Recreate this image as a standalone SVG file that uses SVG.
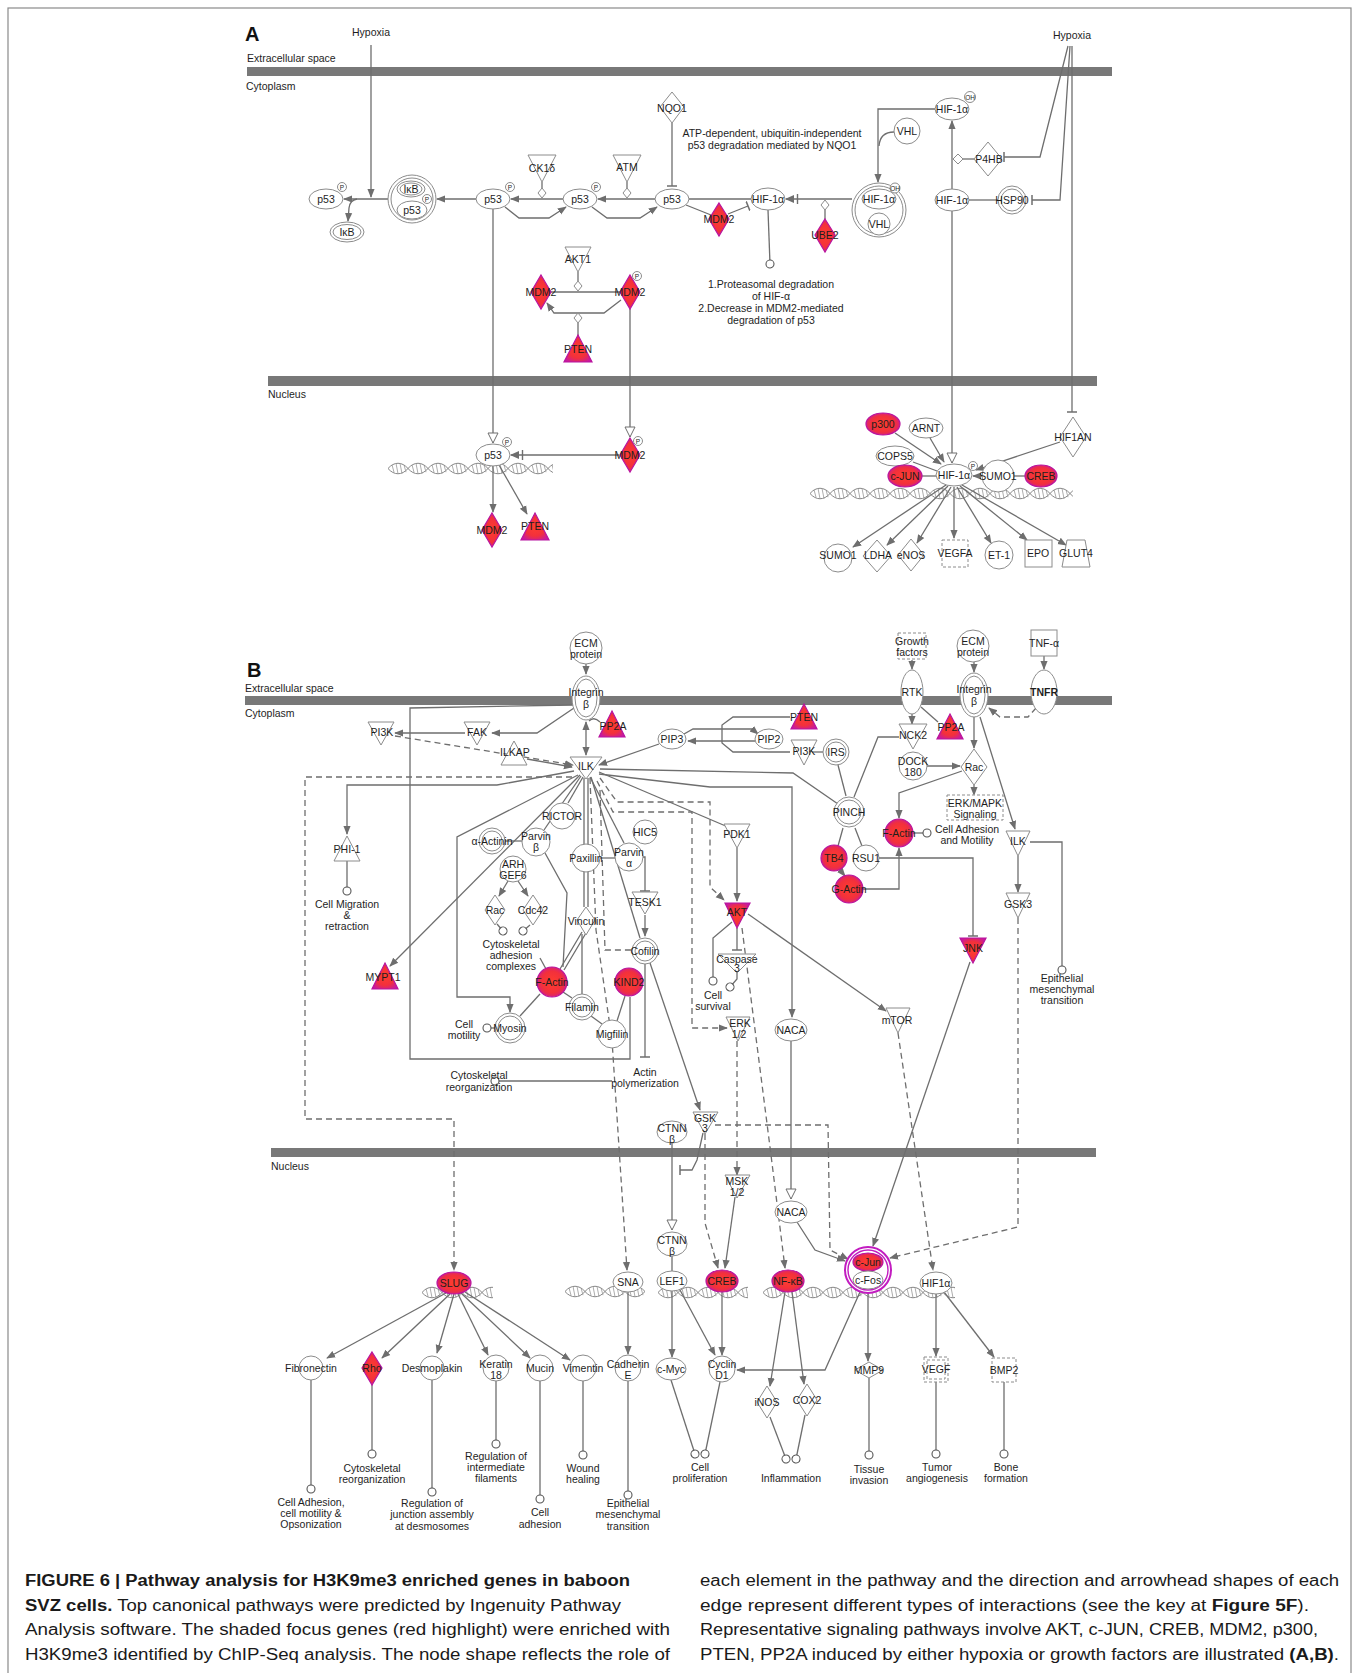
<svg xmlns="http://www.w3.org/2000/svg" width="1359" height="1673" viewBox="0 0 1359 1673">
<defs>
<style>
.n{fill:#fff;stroke:#8c8c8c;stroke-width:1}
.dn{fill:#fff;stroke:#8c8c8c;stroke-width:1;stroke-dasharray:3 2}
.r{fill:url(#rg);stroke:#b8149f;stroke-width:1.2}
.t{font-family:"Liberation Sans",Arial,sans-serif;font-size:10.5px;fill:#1e1e1e;text-anchor:middle;dominant-baseline:central}
.s{font-size:6.5px}
.l{font-family:"Liberation Sans",Arial,sans-serif;font-size:10.5px;fill:#1e1e1e}
.e{fill:none;stroke:#6e6e6e;stroke-width:1.3}
.d{stroke-dasharray:6 4}
.bar{fill:#787878}
.cap{font-family:"Liberation Sans",Arial,sans-serif;font-size:16px;fill:#1a1a1a}
</style>
<radialGradient id="rg" cx="50%" cy="50%" r="60%"><stop offset="0" stop-color="#ff3d2e"/><stop offset="0.6" stop-color="#f2303c"/><stop offset="1" stop-color="#c8199f"/></radialGradient>
<pattern id="hx" patternUnits="userSpaceOnUse" width="40" height="13">
<path d="M0,6.5 C6,-0.5 14,-0.5 20,6.5 S34,13.5 40,6.5 M0,6.5 C6,13.5 14,13.5 20,6.5 S34,-0.5 40,6.5" fill="none" stroke="#858585" stroke-width="1"/>
<path d="M4,2.8 L6,10.2 M8,1.3 L10,11.7 M12,1.3 L14,11.7 M16,2.8 L18,10.2 M24,2.8 L26,10.2 M28,1.3 L30,11.7 M32,1.3 L34,11.7 M36,2.8 L38,10.2" stroke="#979797" stroke-width="0.8"/>
</pattern>
<marker id="a" viewBox="0 0 10 10" refX="9" refY="5" markerWidth="9" markerHeight="9" markerUnits="userSpaceOnUse" orient="auto"><path d="M0,1 L10,5 L0,9 Z" fill="#6e6e6e"/></marker>
<marker id="a2" viewBox="0 0 10 10" refX="9" refY="5" markerWidth="9" markerHeight="9" markerUnits="userSpaceOnUse" orient="auto-start-reverse"><path d="M0,1 L10,5 L0,9 Z" fill="#6e6e6e"/></marker>
<marker id="o" viewBox="0 0 12 12" refX="11" refY="6" markerWidth="12" markerHeight="12" markerUnits="userSpaceOnUse" orient="auto"><path d="M1,1 L11,6 L1,11 Z" fill="#fff" stroke="#6e6e6e"/></marker>
<marker id="b" viewBox="0 0 4 10" refX="2" refY="5" markerWidth="4" markerHeight="10" markerUnits="userSpaceOnUse" orient="auto"><path d="M2,0 V10" stroke="#6e6e6e" stroke-width="1.5"/></marker>
<marker id="c" viewBox="0 0 10 10" refX="5" refY="5" markerWidth="10" markerHeight="10" markerUnits="userSpaceOnUse" orient="auto"><circle cx="5" cy="5" r="4" fill="#fff" stroke="#555" stroke-width="1.1"/></marker>
<marker id="ab" viewBox="0 0 14 10" refX="13" refY="5" markerWidth="14" markerHeight="10" markerUnits="userSpaceOnUse" orient="auto"><path d="M5,1 L14,5 L5,9 Z" fill="#6e6e6e"/><path d="M1.5,0 V10" stroke="#6e6e6e" stroke-width="1.4"/></marker>
</defs>
<rect width="1359" height="1673" fill="#fff"/>
<rect x="8" y="8" width="1343" height="1700" fill="none" stroke="#8a8a8a" stroke-width="1.2"/>

<g id="compartments">
<text x="245" y="41" font-family="Liberation Sans,Arial,sans-serif" font-size="20" font-weight="bold" fill="#111">A</text>
<text class="t" x="371" y="32">Hypoxia</text>
<text class="t" x="1072" y="35">Hypoxia</text>
<text class="l" x="247" y="62">Extracellular space</text>
<rect class="bar" x="247" y="67" width="865" height="9"/>
<text class="l" x="246" y="90">Cytoplasm</text>
<rect class="bar" x="268" y="376" width="829" height="10"/>
<text class="l" x="268" y="398">Nucleus</text>
<text x="247" y="677" font-family="Liberation Sans,Arial,sans-serif" font-size="20" font-weight="bold" fill="#111">B</text>
<text class="l" x="245" y="692">Extracellular space</text>
<rect class="bar" x="245" y="696" width="867" height="9"/>
<text class="l" x="245" y="717">Cytoplasm</text>
<rect class="bar" x="271" y="1148" width="825" height="9"/>
<text class="l" x="271" y="1170">Nucleus</text>
</g>

<g id="dna">
<rect transform="translate(388,462)" width="165" height="13" fill="url(#hx)"/>
<rect transform="translate(810,487)" width="263" height="13" fill="url(#hx)"/>
<rect transform="translate(422,1286)" width="71" height="13" fill="url(#hx)"/>
<rect transform="translate(565,1285)" width="80" height="13" fill="url(#hx)"/>
<rect transform="translate(658,1286)" width="90" height="13" fill="url(#hx)"/>
<rect transform="translate(763,1286)" width="192" height="13" fill="url(#hx)"/>
</g>

<g id="connectors">
<!-- Panel A -->
<path class="e" d="M371,45 V197" marker-end="url(#a)"/>
<path class="e" d="M388,199 H344" marker-end="url(#a)"/>
<path class="e" d="M357,199 Q350,200 349,208 L348,221" marker-end="url(#a)"/>
<path class="e" d="M476,199 H437" marker-end="url(#a)"/>
<path class="e" d="M563,199 H511" marker-end="url(#a)"/>
<path class="e" d="M505,207 L519,218 H549 L566,207" marker-end="url(#a)"/>
<path class="e" d="M655,199 H598" marker-end="url(#a)"/>
<path class="e" d="M592,207 L607,218 H640 L657,207" marker-end="url(#a)"/>
<path class="e" d="M542,182 V189"/>
<path class="e" d="M627,182 V189"/>
<path class="e" d="M672,123 V186" marker-end="url(#b)"/>
<path class="e" d="M689,199 H751"/>
<path class="e" d="M686,205 L711,215"/>
<path class="e" d="M728,214 L748,206" marker-end="url(#b)"/>
<path class="e" d="M852,199 H786" marker-end="url(#ab)"/>
<path class="e" d="M825,219 V209"/>
<path class="e" d="M768,210 L770,264" marker-end="url(#c)"/>
<path class="e" d="M935,109 H878 V182" marker-end="url(#a)"/>
<path class="e" d="M894,132 Q880,132 879,146"/>
<path class="e" d="M952,189 V121" marker-end="url(#a)"/>
<path class="e" d="M962,159 H974"/>
<path class="e" d="M969,200 H998"/>
<path class="e" d="M1068,46 L1040,157 H1004" marker-end="url(#b)"/>
<path class="e" d="M1070,46 L1060,200 H1032" marker-end="url(#b)"/>
<path class="e" d="M1072,46 V412" marker-end="url(#b)"/>
<path class="e" d="M952,211 V463" marker-end="url(#o)"/>
<path class="e" d="M493,209 V443" marker-end="url(#o)"/>
<path class="e" d="M551,292 H620"/>
<path class="e" d="M578,272 V281"/>
<path class="e" d="M621,300 L604,313 H554 L547,303" marker-end="url(#a)"/>
<path class="e" d="M578,336 V323"/>
<path class="e" d="M630,309 V437" marker-end="url(#o)"/>
<path class="e" d="M619,455 H511" marker-end="url(#ab)"/>
<path class="e" d="M493,466 V512" marker-end="url(#a)"/>
<path class="e" d="M499,465 L527,514" marker-end="url(#a)"/>
<path class="e" d="M895,433 L941,464" marker-end="url(#a)"/>
<path class="e" d="M930,438 L944,462" marker-end="url(#a)"/>
<path class="e" d="M913,462 L937,471"/>
<path class="e" d="M922,476 H936"/>
<path class="e" d="M982,476 H973" marker-end="url(#a)"/>
<path class="e" d="M1060,442 L976,470" marker-end="url(#a)"/>
<path class="e" d="M1025,476 H1014"/>
<path class="e" d="M946,485 L853,547" marker-end="url(#a)"/>
<path class="e" d="M948,486 L887,545" marker-end="url(#a)"/>
<path class="e" d="M951,487 L917,543" marker-end="url(#a)"/>
<path class="e" d="M954,487 V538" marker-end="url(#a)"/>
<path class="e" d="M957,487 L991,543" marker-end="url(#a)"/>
<path class="e" d="M960,486 L1027,540" marker-end="url(#a)"/>
<path class="e" d="M962,485 L1066,545" marker-end="url(#a)"/>
<!-- Panel B cytoplasm -->
<path class="e" d="M586,664 V674" marker-end="url(#a)"/>
<path class="e" d="M586,722 V755" marker-start="url(#a2)" marker-end="url(#a)"/>
<path class="e" d="M600,722 Q594,716 589,721"/>
<path class="e" d="M574,708 L537,733 H492" marker-end="url(#a)"/>
<path class="e" d="M465,733 H395" marker-end="url(#a)"/>
<path class="e d" d="M395,736 L573,765" marker-end="url(#a)"/>
<path class="e" d="M527,759 L572,767" marker-end="url(#a)"/>
<path class="e" d="M659,744 L599,765" marker-end="url(#a)"/>
<path class="e" d="M574,705 L410,708 V1059 H630 V997"/>
<path class="e" d="M574,771 L497,785 H347 V834" marker-end="url(#a)"/>
<path class="e d" d="M572,777 H305 V1119 H454 V1270" marker-end="url(#a)"/>
<path class="e" d="M580,775 L390,966" marker-end="url(#a)"/>
<path class="e" d="M578,775 L457,837 V997 H510 V1012" marker-end="url(#a)"/>
<path class="e" d="M583,777 L568,803"/>
<path class="e" d="M581,776 L544,830"/>
<path class="e" d="M584,778 V844 M588,778 V844"/>
<path class="e" d="M590,777 L624,843"/>
<path class="e" d="M591,777 L640,938"/>
<path class="e" d="M650,963 L700,1110" marker-end="url(#a)"/>
<path class="e" d="M600,769 L793,773 L838,804"/>
<path class="e" d="M599,772 L728,827"/>
<path class="e" d="M599,774 L710,787 H792 V1017" marker-end="url(#a)"/>
<path class="e d" d="M600,778 L617,802 H710 V887 L724,900" marker-end="url(#a)"/>
<path class="e d" d="M597,781 L613,812 H692 V1028 H727" marker-end="url(#a)"/>
<path class="e d" d="M590,778 L596,930 L612,1040 L627,1270" marker-end="url(#a)"/>
<path class="e d" d="M600,790 L605,950 H631"/>
<path class="e" d="M684,734 L693,729 H752 L758,734" marker-end="url(#a)"/>
<path class="e" d="M755,741 H688" marker-end="url(#a)"/>
<path class="e" d="M790,717 H733 L722,725 V743 L733,752 H790"/>
<path class="e" d="M823,752 H812"/>
<path class="e" d="M1018,856 V892" marker-end="url(#a)"/>
<path class="e" d="M1030,842 H1062 V970" marker-end="url(#c)"/>
<path class="e" d="M980,717 L1015,829" marker-end="url(#a)"/>
<path class="e" d="M974,717 V748" marker-end="url(#a)"/>
<path class="e" d="M974,662 V672" marker-end="url(#a)"/>
<path class="e" d="M1044,656 V669" marker-end="url(#a)"/>
<path class="e d" d="M1036,708 L1028,717 H1000 L989,708" marker-end="url(#a)"/>
<path class="e" d="M912,660 V669" marker-end="url(#a)"/>
<path class="e" d="M912,714 V724" marker-end="url(#a)"/>
<path class="e" d="M921,707 L938,722"/>
<path class="e" d="M927,766 H960" marker-end="url(#a)"/>
<path class="e d" d="M974,785 V795" marker-end="url(#a)"/>
<path class="e" d="M962,771 L899,793 V818" marker-end="url(#a)"/>
<path class="e" d="M913,833 H927" marker-end="url(#c)"/>
<path class="e" d="M899,737 H878 L854,797"/>
<path class="e" d="M838,765 L846,796"/>
<path class="e" d="M843,828 L838,846 M855,828 L862,846"/>
<path class="e" d="M840,870 L845,876" marker-end="url(#a)"/>
<path class="e" d="M863,889 H899 V848" marker-end="url(#a)"/>
<path class="e" d="M879,858 H973 V936" marker-end="url(#b)"/>
<path class="e" d="M737,848 V901" marker-end="url(#a)"/>
<path class="e" d="M737,928 V950" marker-end="url(#b)"/>
<path class="e" d="M732,922 L713,938 V981" marker-end="url(#c)"/>
<path class="e" d="M737,972 V979 L730,987" marker-end="url(#c)"/>
<path class="e" d="M748,914 L886,1011" marker-end="url(#a)"/>
<path class="e d" d="M742,928 L770,1147 L785,1268" marker-end="url(#a)"/>
<path class="e" d="M347,861 V891" marker-end="url(#c)"/>
<path class="e" d="M508,881 L499,896" marker-end="url(#a)"/>
<path class="e" d="M518,881 L528,896" marker-end="url(#a)"/>
<path class="e" d="M497,924 L503,931" marker-end="url(#c)"/>
<path class="e" d="M530,925 L523,931" marker-end="url(#c)"/>
<path class="e" d="M505,841 H523"/>
<path class="e" d="M600,858 H615"/>
<path class="e" d="M643,857 H645 V891" marker-end="url(#b)"/>
<path class="e" d="M645,915 V936" marker-end="url(#a)"/>
<path class="e" d="M645,964 V1057" marker-end="url(#b)"/>
<path class="e" d="M582,932 L560,969 M586,933 L564,970"/>
<path class="e" d="M584,872 V907 M588,872 V907"/>
<path class="e" d="M582,934 V994"/>
<path class="e" d="M563,992 L572,998"/>
<path class="e" d="M591,1016 L602,1024"/>
<path class="e" d="M617,1021 L625,996"/>
<path class="e" d="M540,994 L520,1016"/>
<path class="e" d="M495,1028 H487" marker-end="url(#c)"/>
<path class="e" d="M612,1081 H495" marker-end="url(#c)"/>
<path class="e" d="M545,853 L567,893 L563,967"/>
<path class="e" d="M540,958 L546,969"/>
<!-- Panel B nucleus -->
<path class="e d" d="M715,1125 H828 L830,1250 L848,1259" marker-end="url(#a)"/>
<path class="e d" d="M705,1134 V1223 L718,1268" marker-end="url(#a)"/>
<path class="e" d="M703,1133 L697,1160 L692,1170 H680" marker-end="url(#b)"/>
<path class="e" d="M672,1143 V1230" marker-end="url(#o)"/>
<path class="e" d="M672,1256 V1271"/>
<path class="e d" d="M737,1041 V1175" marker-end="url(#a)"/>
<path class="e" d="M735,1197 L725,1268" marker-end="url(#a)"/>
<path class="e" d="M791,1041 V1199" marker-end="url(#o)"/>
<path class="e" d="M797,1222 L815,1250 L845,1261" marker-end="url(#a)"/>
<path class="e" d="M970,962 L873,1246" marker-end="url(#a)"/>
<path class="e d" d="M898,1033 L933,1270" marker-end="url(#a)"/>
<path class="e d" d="M1018,918 V1227 L890,1258" marker-end="url(#a)"/>
<path class="e" d="M446,1293 L327,1358" marker-end="url(#a)"/>
<path class="e" d="M450,1294 L382,1358" marker-end="url(#a)"/>
<path class="e" d="M454,1294 L437,1353" marker-end="url(#a)"/>
<path class="e" d="M458,1294 L488,1355" marker-end="url(#a)"/>
<path class="e" d="M461,1293 L530,1358" marker-end="url(#a)"/>
<path class="e" d="M465,1292 L570,1360" marker-end="url(#a)"/>
<path class="e" d="M311,1380 V1489" marker-end="url(#c)"/>
<path class="e" d="M372,1385 V1454" marker-end="url(#c)"/>
<path class="e" d="M432,1380 V1492" marker-end="url(#c)"/>
<path class="e" d="M496,1381 V1444" marker-end="url(#c)"/>
<path class="e" d="M540,1381 V1499" marker-end="url(#c)"/>
<path class="e" d="M583,1381 V1455" marker-end="url(#c)"/>
<path class="e" d="M628,1381 V1495" marker-end="url(#c)"/>
<path class="e" d="M628,1292 V1354" marker-end="url(#a)"/>
<path class="e" d="M672,1291 V1357" marker-end="url(#a)"/>
<path class="e" d="M680,1290 L715,1355" marker-end="url(#a)"/>
<path class="e" d="M722,1292 V1355" marker-end="url(#a)"/>
<path class="e" d="M860,1292 L825,1370 H737" marker-end="url(#a)"/>
<path class="e" d="M785,1292 L770,1386" marker-end="url(#a)"/>
<path class="e" d="M792,1292 L804,1384" marker-end="url(#a)"/>
<path class="e" d="M868,1293 V1361" marker-end="url(#a)"/>
<path class="e" d="M936,1294 V1356" marker-end="url(#a)"/>
<path class="e" d="M944,1292 L994,1357" marker-end="url(#a)"/>
<path class="e" d="M671,1380 L695,1454" marker-end="url(#c)"/>
<path class="e" d="M720,1382 L705,1454" marker-end="url(#c)"/>
<path class="e" d="M770,1417 L786,1459" marker-end="url(#c)"/>
<path class="e" d="M805,1415 L796,1459" marker-end="url(#c)"/>
<path class="e" d="M869,1378 V1455" marker-end="url(#c)"/>
<path class="e" d="M936,1382 V1454" marker-end="url(#c)"/>
<path class="e" d="M1004,1382 V1454" marker-end="url(#c)"/>
</g>

<g id="nodes-a">
<g id="a-p53-1"><ellipse class="n" cx="326" cy="199" rx="17" ry="10"/><text class="t" x="326" y="199">p53</text><circle class="n" cx="342" cy="187" r="4.5"/><text class="t s" x="342" y="187">P</text></g>
<g id="a-ikb"><ellipse class="n" cx="347" cy="232" rx="17" ry="10"/><ellipse class="n" cx="347" cy="232" rx="14" ry="7.5"/><text class="t" x="347" y="232">IκB</text></g>
<g id="a-ikb-p53"><circle class="n" cx="412" cy="199" r="24"/><circle class="n" cx="412" cy="199" r="21"/><ellipse class="n" cx="411" cy="189" rx="14" ry="8"/><ellipse class="n" cx="411" cy="189" rx="11" ry="6"/><text class="t" x="411" y="189">IκB</text><ellipse class="n" cx="412" cy="210" rx="15" ry="9"/><text class="t" x="412" y="210">p53</text><circle class="n" cx="427" cy="199" r="4.5"/><text class="t s" x="427" y="199">P</text></g>
<g id="a-p53-2"><ellipse class="n" cx="493" cy="199" rx="17" ry="10"/><text class="t" x="493" y="199">p53</text><circle class="n" cx="510" cy="187" r="4.5"/><text class="t s" x="510" y="187">P</text></g>
<g id="a-p53-3"><ellipse class="n" cx="580" cy="199" rx="17" ry="10"/><text class="t" x="580" y="199">p53</text><circle class="n" cx="596" cy="187" r="4.5"/><text class="t s" x="596" y="187">P</text></g>
<g id="a-p53-4"><ellipse class="n" cx="672" cy="199" rx="17" ry="10"/><text class="t" x="672" y="199">p53</text></g>
<g id="a-ck1d"><polygon class="n" points="528,155 556,155 542,182"/><text class="t" x="542" y="168">CK1δ</text><polygon class="n" points="542,188 546,193 542,198 538,193"/></g>
<g id="a-atm"><polygon class="n" points="613,155 641,155 627,182"/><text class="t" x="627" y="167">ATM</text><polygon class="n" points="627,188 631,193 627,198 623,193"/></g>
<g id="a-nqo1"><polygon class="n" points="672,92 684,107 672,123 660,107"/><text class="t" x="672" y="108">NQO1</text></g>
<g id="a-mdm2-1"><polygon class="r" points="719,203 729,219 719,236 709,219"/><text class="t" x="719" y="219">MDM2</text></g>
<g id="a-hif-1"><ellipse class="n" cx="768" cy="199" rx="17" ry="11"/><text class="t" x="768" y="199">HIF-1α</text></g>
<g id="a-ube2"><polygon class="r" points="825,219 835,235 825,252 815,235"/><text class="t" x="825" y="235">UBE2</text><polygon class="n" points="825,200 829,205 825,210 821,205"/></g>
<g id="a-hif-vhl"><circle class="n" cx="879" cy="210" r="27"/><circle class="n" cx="879" cy="210" r="24"/><ellipse class="n" cx="879" cy="199" rx="17" ry="10"/><text class="t" x="879" y="199">HIF-1α</text><circle class="n" cx="879" cy="224" r="11"/><text class="t" x="879" y="224">VHL</text><circle class="n" cx="895" cy="188" r="5"/><text class="t s" x="895" y="188">OH</text></g>
<g id="a-vhl"><circle class="n" cx="907" cy="131" r="13"/><text class="t" x="907" y="131">VHL</text></g>
<g id="a-hif-top"><ellipse class="n" cx="952" cy="109" rx="17" ry="11"/><text class="t" x="952" y="109">HIF-1α</text><circle class="n" cx="970" cy="97" r="5.5"/><text class="t s" x="970" y="97">OH</text></g>
<g id="a-hif-mid"><ellipse class="n" cx="952" cy="200" rx="17" ry="11"/><text class="t" x="952" y="200">HIF-1α</text><polygon class="n" points="953,159 958,154 963,159 958,164"/></g>
<g id="a-p4hb"><polygon class="n" points="988,142 1002,159 988,176 974,159"/><text class="t" x="989" y="159">P4HB</text></g>
<g id="a-hsp90"><circle class="n" cx="1012" cy="200" r="14"/><circle class="n" cx="1012" cy="200" r="11"/><text class="t" x="1012" y="200">HSP90</text></g>
<g id="a-mdm2-c1"><polygon class="r" points="541,275 551,292 541,309 531,292"/><text class="t" x="541" y="292">MDM2</text></g>
<g id="a-mdm2-c2"><polygon class="r" points="630,275 640,292 630,309 620,292"/><text class="t" x="630" y="292">MDM2</text><circle class="n" cx="637" cy="276" r="4.5"/><text class="t s" x="637" y="276">P</text></g>
<g id="a-akt1"><polygon class="n" points="565,247 591,247 578,272"/><text class="t" x="578" y="259">AKT1</text><polygon class="n" points="578,281 582,286 578,291 574,286"/></g>
<g id="a-pten-c"><polygon class="r" points="578,335 592,362 564,362"/><text class="t" x="578" y="349">PTEN</text><polygon class="n" points="578,313 582,318 578,323 574,318"/></g>
<g id="a-p53-n"><ellipse class="n" cx="493" cy="455" rx="17" ry="11"/><text class="t" x="493" y="455">p53</text><circle class="n" cx="507" cy="442" r="4.5"/><text class="t s" x="507" y="442">P</text></g>
<g id="a-mdm2-n"><polygon class="r" points="630,438 640,455 630,472 620,455"/><text class="t" x="630" y="455">MDM2</text><circle class="n" cx="638" cy="441" r="4.5"/><text class="t s" x="638" y="441">P</text></g>
<g id="a-mdm2-n2"><polygon class="r" points="492,513 502,530 492,547 482,530"/><text class="t" x="492" y="530">MDM2</text></g>
<g id="a-pten-n"><polygon class="r" points="535,513 549,540 521,540"/><text class="t" x="535" y="526">PTEN</text></g>
<g id="a-p300"><ellipse class="r" cx="883" cy="424" rx="17" ry="11"/><text class="t" x="883" y="424">p300</text></g>
<g id="a-arnt"><ellipse class="n" cx="926" cy="428" rx="17" ry="10"/><text class="t" x="926" y="428">ARNT</text></g>
<g id="a-cops5"><ellipse class="n" cx="895" cy="456" rx="19" ry="10"/><text class="t" x="895" y="456">COPS5</text></g>
<g id="a-cjun"><ellipse class="r" cx="905" cy="476" rx="17" ry="11"/><text class="t" x="905" y="476">c-JUN</text></g>
<g id="a-hif-n"><ellipse class="n" cx="954" cy="475" rx="18" ry="11"/><text class="t" x="954" y="475">HIF-1α</text><circle class="n" cx="973" cy="466" r="4.5"/><text class="t s" x="973" y="466">P</text></g>
<g id="a-sumo1"><circle class="n" cx="998" cy="476" r="16"/><text class="t" x="998" y="476">SUMO1</text></g>
<g id="a-creb"><ellipse class="r" cx="1041" cy="476" rx="16" ry="11"/><text class="t" x="1041" y="476">CREB</text></g>
<g id="a-hif1an"><polygon class="n" points="1073,417 1086,437 1073,457 1060,437"/><text class="t" x="1073" y="437">HIF1AN</text></g>
<g id="a-sumo1-t"><circle class="n" cx="838" cy="558" r="14"/><text class="t" x="838" y="555">SUMO1</text></g>
<g id="a-ldha"><polygon class="n" points="877,540 891,556 877,572 863,556"/><text class="t" x="878" y="555">LDHA</text></g>
<g id="a-enos"><polygon class="n" points="911,539 924,555 911,571 898,555"/><text class="t" x="911" y="555">eNOS</text></g>
<g id="a-vegfa"><rect class="dn" x="942" y="540" width="26" height="27"/><text class="t" x="955" y="553">VEGFA</text></g>
<g id="a-et1"><circle class="n" cx="999" cy="555" r="14"/><text class="t" x="999" y="555">ET-1</text></g>
<g id="a-epo"><rect class="n" x="1025" y="540" width="27" height="27"/><text class="t" x="1038" y="553">EPO</text></g>
<g id="a-glut4"><polygon class="n" points="1067,540 1085,540 1090,567 1062,567"/><text class="t" x="1076" y="553">GLUT4</text></g>
<g id="a-notes">
<text class="t" x="772" y="133" font-size="11">ATP-dependent, ubiquitin-independent</text>
<text class="t" x="772" y="145" font-size="11">p53 degradation mediated by NQO1</text>
<text class="t" x="771" y="284" font-size="11">1.Proteasomal degradation</text>
<text class="t" x="771" y="296" font-size="11">of HIF-α</text>
<text class="t" x="771" y="308" font-size="11">2.Decrease in MDM2-mediated</text>
<text class="t" x="771" y="320" font-size="11">degradation of p53</text>
</g>
</g>

<g id="nodes-b">
<g id="b-ecm1"><circle class="n" cx="586" cy="648" r="16"/><text class="t" x="586" y="643">ECM</text><text class="t" x="586" y="654">protein</text></g>
<g id="b-integrin1"><ellipse class="n" cx="586" cy="698" rx="14" ry="22"/><ellipse class="n" cx="586" cy="698" rx="11" ry="19"/><text class="t" x="586" y="692">Integrin</text><text class="t" x="586" y="704">β</text></g>
<g id="b-pp2a1"><polygon class="r" points="612,711 625,737 599,737"/><text class="t" x="613" y="726">PP2A</text></g>
<g id="b-ilk1"><polygon class="n" points="570,757 602,757 586,779"/><text class="t" x="586" y="766">ILK</text></g>
<g id="b-pi3k1"><polygon class="n" points="368,722 394,722 381,745"/><text class="t" x="382" y="732">PI3K</text></g>
<g id="b-fak"><polygon class="n" points="464,722 490,722 477,745"/><text class="t" x="477" y="732">FAK</text></g>
<g id="b-ilkap"><polygon class="n" points="514,741 527,765 501,765"/><text class="t" x="515" y="752">ILKAP</text></g>
<g id="b-pip3"><ellipse class="n" cx="672" cy="739" rx="14" ry="10"/><text class="t" x="672" y="739">PIP3</text></g>
<g id="b-pip2"><ellipse class="n" cx="769" cy="739" rx="14" ry="10"/><text class="t" x="769" y="739">PIP2</text></g>
<g id="b-pten"><polygon class="r" points="804,704 817,729 791,729"/><text class="t" x="804" y="717">PTEN</text></g>
<g id="b-pi3k2"><polygon class="n" points="791,740 817,740 804,765"/><text class="t" x="804" y="751">PI3K</text></g>
<g id="b-irs"><circle class="n" cx="836" cy="752" r="13"/><circle class="n" cx="836" cy="752" r="10"/><text class="t" x="836" y="752">IRS</text></g>
<g id="b-gf"><rect class="dn" x="898" y="633" width="28" height="26"/><text class="t" x="912" y="641">Growth</text><text class="t" x="912" y="652">factors</text></g>
<g id="b-ecm2"><circle class="n" cx="973" cy="646" r="16"/><text class="t" x="973" y="641">ECM</text><text class="t" x="973" y="652">protein</text></g>
<g id="b-tnfa"><rect class="n" x="1031" y="630" width="26" height="26"/><text class="t" x="1044" y="643">TNF-α</text></g>
<g id="b-rtk"><ellipse class="n" cx="912" cy="692" rx="11" ry="22"/><text class="t" x="912" y="692">RTK</text></g>
<g id="b-integrin2"><ellipse class="n" cx="974" cy="695" rx="14" ry="22"/><ellipse class="n" cx="974" cy="695" rx="11" ry="19"/><text class="t" x="974" y="689">Integrin</text><text class="t" x="974" y="701">β</text></g>
<g id="b-tnfr"><ellipse class="n" cx="1044" cy="692" rx="13" ry="22"/><text class="t" x="1044" y="692" font-weight="bold">TNFR</text></g>
<g id="b-pp2a2"><polygon class="r" points="950,714 963,739 937,739"/><text class="t" x="951" y="727">PP2A</text></g>
<g id="b-nck2"><polygon class="n" points="899,724 927,724 913,749"/><text class="t" x="913" y="735">NCK2</text></g>
<g id="b-dock180"><circle class="n" cx="913" cy="766" r="14"/><text class="t" x="913" y="761">DOCK</text><text class="t" x="913" y="772">180</text></g>
<g id="b-rac2"><polygon class="n" points="974,749 987,767 974,785 961,767"/><text class="t" x="974" y="767">Rac</text></g>
<g id="b-erkmapk"><rect class="dn" x="947" y="795" width="56" height="25"/><text class="t" x="975" y="803">ERK/MAPK</text><text class="t" x="975" y="814">Signaling</text></g>
<g id="b-pinch"><circle class="n" cx="849" cy="812" r="15"/><circle class="n" cx="849" cy="812" r="12"/><text class="t" x="849" y="812">PINCH</text></g>
<g id="b-factin2"><circle class="r" cx="899" cy="833" r="14"/><text class="t" x="899" y="833">F-Actin</text></g>
<g id="b-tb4"><circle class="r" cx="834" cy="858" r="13"/><text class="t" x="834" y="858">TB4</text></g>
<g id="b-rsu1"><circle class="n" cx="866" cy="858" r="13"/><text class="t" x="866" y="858">RSU1</text></g>
<g id="b-gactin"><circle class="r" cx="849" cy="889" r="14"/><text class="t" x="849" y="889">G-Actin</text></g>
<g id="b-ilk2"><polygon class="n" points="1006,831 1030,831 1018,856"/><text class="t" x="1018" y="841">ILK</text></g>
<g id="b-gsk3-2"><polygon class="n" points="1006,893 1030,893 1018,918"/><text class="t" x="1018" y="904">GSK3</text></g>
<g id="b-pdk1"><polygon class="n" points="724,824 750,824 737,848"/><text class="t" x="737" y="834">PDK1</text></g>
<g id="b-akt"><polygon class="r" points="725,903 750,903 737,928"/><text class="t" x="737" y="912">AKT</text></g>
<g id="b-casp3"><polygon class="n" points="718,954 756,954 737,973"/><text class="t" x="737" y="959">Caspase</text><text class="t" x="737" y="968">3</text></g>
<g id="b-erk12"><polygon class="n" points="726,1017 750,1017 738,1041"/><text class="t" x="740" y="1023">ERK</text><text class="t" x="739" y="1034">1/2</text></g>
<g id="b-naca1"><ellipse class="n" cx="791" cy="1030" rx="16" ry="11"/><text class="t" x="791" y="1030">NACA</text></g>
<g id="b-mtor"><polygon class="n" points="886,1008 910,1008 898,1033"/><text class="t" x="897" y="1020">mTOR</text></g>
<g id="b-jnk"><polygon class="r" points="960,938 986,938 973,963"/><text class="t" x="973" y="948">JNK</text></g>
<g id="b-phi1"><polygon class="n" points="347,836 360,861 334,861"/><text class="t" x="347" y="849">PHI-1</text></g>
<g id="b-mypt1"><polygon class="r" points="385,963 398,989 372,989"/><text class="t" x="383" y="977">MYPT1</text></g>
<g id="b-rictor"><circle class="n" cx="562" cy="816" r="13"/><text class="t" x="562" y="816">RICTOR</text></g>
<g id="b-aactinin"><circle class="n" cx="492" cy="841" r="13"/><circle class="n" cx="492" cy="841" r="10"/><text class="t" x="492" y="841">α-Actinin</text></g>
<g id="b-parvinb"><circle class="n" cx="536" cy="842" r="14"/><text class="t" x="536" y="836">Parvin</text><text class="t" x="536" y="847">β</text></g>
<g id="b-arhgef6"><circle class="n" cx="513" cy="869" r="13"/><text class="t" x="513" y="864">ARH</text><text class="t" x="513" y="875">GEF6</text></g>
<g id="b-rac1"><polygon class="n" points="495,895 505,910 495,925 485,910"/><text class="t" x="495" y="910">Rac</text></g>
<g id="b-cdc42"><polygon class="n" points="533,895 543,910 533,925 523,910"/><text class="t" x="533" y="910">Cdc42</text></g>
<g id="b-paxillin"><circle class="n" cx="586" cy="858" r="14"/><text class="t" x="586" y="858">Paxillin</text></g>
<g id="b-hic5"><circle class="n" cx="645" cy="832" r="12"/><text class="t" x="645" y="832">HIC5</text></g>
<g id="b-parvina"><circle class="n" cx="629" cy="857" r="14"/><text class="t" x="629" y="852">Parvin</text><text class="t" x="629" y="863">α</text></g>
<g id="b-tesk1"><polygon class="n" points="632,892 658,892 645,914"/><text class="t" x="645" y="902">TESK1</text></g>
<g id="b-vinculin"><polygon class="n" points="586,907 595,920 586,935 577,920"/><text class="t" x="586" y="921">Vinculin</text></g>
<g id="b-cofilin"><circle class="n" cx="645" cy="951" r="13"/><circle class="n" cx="645" cy="951" r="10"/><text class="t" x="645" y="951">Cofilin</text></g>
<g id="b-factin1"><circle class="r" cx="552" cy="982" r="15"/><text class="t" x="552" y="982">F-Actin</text></g>
<g id="b-kind2"><circle class="r" cx="629" cy="982" r="14"/><text class="t" x="629" y="982">KIND2</text></g>
<g id="b-filamin"><circle class="n" cx="582" cy="1007" r="13"/><circle class="n" cx="582" cy="1007" r="10"/><text class="t" x="582" y="1007">Filamin</text></g>
<g id="b-migfilin"><circle class="n" cx="612" cy="1034" r="14"/><text class="t" x="612" y="1034">Migfilin</text></g>
<g id="b-myosin"><circle class="n" cx="510" cy="1028" r="15"/><circle class="n" cx="510" cy="1028" r="12"/><text class="t" x="510" y="1028">Myosin</text></g>
<g id="b-gsk3-1"><polygon class="n" points="693,1112 718,1112 705,1134"/><text class="t" x="705" y="1118">GSK</text><text class="t" x="705" y="1128">3</text></g>
<g id="b-ctnnb1"><ellipse class="n" cx="672" cy="1132" rx="15" ry="11"/><text class="t" x="672" y="1128">CTNN</text><text class="t" x="672" y="1139">β</text></g>
<g id="b-msk12"><polygon class="n" points="725,1175 750,1175 737,1198"/><text class="t" x="737" y="1181">MSK</text><text class="t" x="737" y="1192">1/2</text></g>
<g id="b-naca2"><ellipse class="n" cx="791" cy="1212" rx="16" ry="11"/><text class="t" x="791" y="1212">NACA</text></g>
<g id="b-ctnnb2"><ellipse class="n" cx="672" cy="1244" rx="15" ry="12"/><text class="t" x="672" y="1240">CTNN</text><text class="t" x="672" y="1251">β</text></g>
<g id="b-lef1"><ellipse class="n" cx="672" cy="1281" rx="15" ry="10"/><text class="t" x="672" y="1281">LEF1</text></g>
<g id="b-creb"><ellipse class="r" cx="722" cy="1281" rx="16" ry="11"/><text class="t" x="722" y="1281">CREB</text></g>
<g id="b-nfkb"><ellipse class="r" cx="788" cy="1281" rx="16" ry="11"/><text class="t" x="788" y="1281">NF-κB</text></g>
<g id="b-cjun-cfos"><circle cx="868" cy="1270" r="23" fill="#fff" stroke="#c21cc0" stroke-width="2"/><circle cx="868" cy="1270" r="20" fill="#fff" stroke="#c21cc0" stroke-width="1.4"/><ellipse class="r" cx="868" cy="1262" rx="15" ry="9"/><text class="t" x="868" y="1262">c-Jun</text><ellipse class="n" cx="868" cy="1280" rx="15" ry="9"/><text class="t" x="868" y="1280">c-Fos</text></g>
<g id="b-hif1a"><ellipse class="n" cx="936" cy="1283" rx="16" ry="11"/><text class="t" x="936" y="1283">HIF1α</text></g>
<g id="b-slug"><ellipse class="r" cx="454" cy="1283" rx="17" ry="11"/><text class="t" x="454" y="1283">SLUG</text></g>
<g id="b-sna"><ellipse class="n" cx="628" cy="1282" rx="15" ry="10"/><text class="t" x="628" y="1282">SNA</text></g>
<g id="b-fibronectin"><circle class="n" cx="311" cy="1368" r="12"/><text class="t" x="311" y="1368">Fibronectin</text></g>
<g id="b-rho"><polygon class="r" points="372,1352 382,1368 372,1385 362,1368"/><text class="t" x="372" y="1368">Rho</text></g>
<g id="b-desmoplakin"><circle class="n" cx="432" cy="1368" r="12"/><text class="t" x="432" y="1368">Desmoplakin</text></g>
<g id="b-keratin18"><circle class="n" cx="496" cy="1368" r="13"/><text class="t" x="496" y="1364">Keratin</text><text class="t" x="496" y="1375">18</text></g>
<g id="b-mucin"><circle class="n" cx="540" cy="1368" r="13"/><text class="t" x="540" y="1368">Mucin</text></g>
<g id="b-vimentin"><circle class="n" cx="583" cy="1368" r="13"/><text class="t" x="583" y="1368">Vimentin</text></g>
<g id="b-cadherin"><circle class="n" cx="628" cy="1368" r="13"/><text class="t" x="628" y="1364">Cadherin</text><text class="t" x="628" y="1375">E</text></g>
<g id="b-cmyc"><ellipse class="n" cx="671" cy="1369" rx="15" ry="11"/><text class="t" x="671" y="1369">c-Myc</text></g>
<g id="b-cyclind1"><circle class="n" cx="722" cy="1369" r="13"/><text class="t" x="722" y="1364">Cyclin</text><text class="t" x="722" y="1375">D1</text></g>
<g id="b-inos"><polygon class="n" points="767,1386 777,1402 767,1418 757,1402"/><text class="t" x="767" y="1402">iNOS</text></g>
<g id="b-cox2"><polygon class="n" points="807,1384 817,1400 807,1416 797,1400"/><text class="t" x="807" y="1400">COX2</text></g>
<g id="b-mmp9"><polygon class="n" points="855,1370 869,1362 883,1370 869,1378"/><text class="t" x="869" y="1370">MMP9</text></g>
<g id="b-vegf"><rect class="dn" x="924" y="1357" width="24" height="25"/><rect class="dn" x="927" y="1360" width="18" height="19"/><text class="t" x="936" y="1369">VEGF</text></g>
<g id="b-bmp2"><rect class="dn" x="992" y="1358" width="24" height="24"/><text class="t" x="1004" y="1370">BMP2</text></g>
</g>

<g id="processes">
<text class="t" x="967" y="829">Cell Adhesion</text><text class="t" x="967" y="840">and Motility</text>
<text class="t" x="1062" y="978">Epithelial</text><text class="t" x="1062" y="989">mesenchymal</text><text class="t" x="1062" y="1000">transition</text>
<text class="t" x="713" y="995">Cell</text><text class="t" x="713" y="1006">survival</text>
<text class="t" x="347" y="904">Cell Migration</text><text class="t" x="347" y="915">&amp;</text><text class="t" x="347" y="926">retraction</text>
<text class="t" x="511" y="944">Cytoskeletal</text><text class="t" x="511" y="955">adhesion</text><text class="t" x="511" y="966">complexes</text>
<text class="t" x="464" y="1024">Cell</text><text class="t" x="464" y="1035">motility</text>
<text class="t" x="479" y="1075">Cytoskeletal</text><text class="t" x="479" y="1087">reorganization</text>
<text class="t" x="645" y="1072">Actin</text><text class="t" x="645" y="1083">polymerization</text>
<text class="t" x="311" y="1502">Cell Adhesion,</text><text class="t" x="311" y="1513">cell motility &amp;</text><text class="t" x="311" y="1524">Opsonization</text>
<text class="t" x="372" y="1468">Cytoskeletal</text><text class="t" x="372" y="1479">reorganization</text>
<text class="t" x="432" y="1503">Regulation of</text><text class="t" x="432" y="1514">junction assembly</text><text class="t" x="432" y="1526">at desmosomes</text>
<text class="t" x="496" y="1456">Regulation of</text><text class="t" x="496" y="1467">intermediate</text><text class="t" x="496" y="1478">filaments</text>
<text class="t" x="540" y="1512">Cell</text><text class="t" x="540" y="1524">adhesion</text>
<text class="t" x="583" y="1468">Wound</text><text class="t" x="583" y="1479">healing</text>
<text class="t" x="628" y="1503">Epithelial</text><text class="t" x="628" y="1514">mesenchymal</text><text class="t" x="628" y="1526">transition</text>
<text class="t" x="700" y="1467">Cell</text><text class="t" x="700" y="1478">proliferation</text>
<text class="t" x="791" y="1478">Inflammation</text>
<text class="t" x="869" y="1469">Tissue</text><text class="t" x="869" y="1480">invasion</text>
<text class="t" x="937" y="1467">Tumor</text><text class="t" x="937" y="1478">angiogenesis</text>
<text class="t" x="1006" y="1467">Bone</text><text class="t" x="1006" y="1478">formation</text>
</g>

<g id="caption">
<text class="cap" x="25" y="1586" font-weight="bold" textLength="605" lengthAdjust="spacingAndGlyphs">FIGURE 6 | Pathway analysis for H3K9me3 enriched genes in baboon</text>
<text class="cap" x="25" y="1611" textLength="596" lengthAdjust="spacingAndGlyphs"><tspan font-weight="bold">SVZ cells.</tspan> Top canonical pathways were predicted by Ingenuity Pathway</text>
<text class="cap" x="25" y="1635" textLength="645" lengthAdjust="spacingAndGlyphs">Analysis software. The shaded focus genes (red highlight) were enriched with</text>
<text class="cap" x="25" y="1660" textLength="645" lengthAdjust="spacingAndGlyphs">H3K9me3 identified by ChIP-Seq analysis. The node shape reflects the role of</text>
<text class="cap" x="700" y="1586" textLength="639" lengthAdjust="spacingAndGlyphs">each element in the pathway and the direction and arrowhead shapes of each</text>
<text class="cap" x="700" y="1611" textLength="609" lengthAdjust="spacingAndGlyphs">edge represent different types of interactions (see the key at <tspan font-weight="bold">Figure 5F</tspan>).</text>
<text class="cap" x="700" y="1635" textLength="618" lengthAdjust="spacingAndGlyphs">Representative signaling pathways involve AKT, c-JUN, CREB, MDM2, p300,</text>
<text class="cap" x="700" y="1660" textLength="639" lengthAdjust="spacingAndGlyphs">PTEN, PP2A induced by either hypoxia or growth factors are illustrated <tspan font-weight="bold">(A,B)</tspan>.</text>
</g>
</svg>
